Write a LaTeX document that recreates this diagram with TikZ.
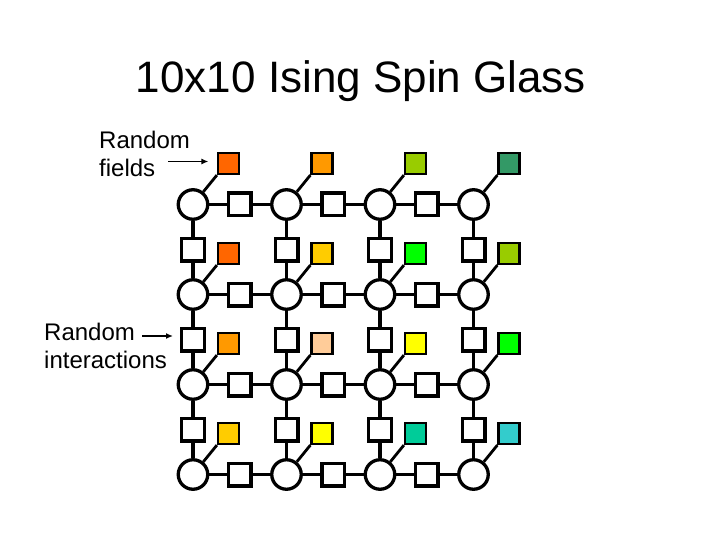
\documentclass[tikz,border=0pt]{standalone}
\usepackage{fontspec}
\setmainfont{Liberation Sans}
\usetikzlibrary{arrows.meta,positioning,calc}
\definecolor{ISGOrange}{HTML}{FF6600}
\definecolor{ISGAmber}{HTML}{FF9900}
\definecolor{ISGLime}{HTML}{99CC00}
\definecolor{ISGSea}{HTML}{339966}
\definecolor{ISGGold}{HTML}{FFCC00}
\definecolor{ISGGreen}{HTML}{00FF00}
\definecolor{ISGTan}{HTML}{FFCC99}
\definecolor{ISGYellow}{HTML}{FFFF00}
\definecolor{ISGTeal}{HTML}{00CC99}
\definecolor{ISGCyan}{HTML}{33CCCC}

\begin{document}
\begin{tikzpicture}[
  x=1pt, y=-1pt,
  spin/.style={draw, circle, line width=3.3pt, minimum size=29.5pt, inner sep=0pt},
  coupling/.style={draw, rectangle, line width=3.3pt, minimum size=22.7pt, inner sep=0pt},
  fieldbox/.style={draw, rectangle, line width=2.2pt, minimum size=21pt, inner sep=0pt},
  bond/.style={line width=3.3pt},
  tie/.style={line width=2.8pt},
  sidetext/.style={align=left, inner sep=0pt, anchor=north west, font=\fontsize{24}{27.6}\selectfont},
  pointer/.style={-{Latex[length=7pt,width=6pt]}, line width=1.8pt}
]
\useasboundingbox (0,0) rectangle (720,540);
\node[anchor=base, font=\fontsize{44}{50}\selectfont] (title) at (361,93) {10x10 Ising Spin Glass};
% spins
\foreach \i in {1,...,4} {
  \foreach \j in {1,...,4} {
    \node[spin] (s\i\j) at ({193+93.5*(\j-1)}, {204.5+90*(\i-1)}) {};
  }
}
% interactions along rows and columns
\foreach \i in {1,...,4} {
  \foreach \j in {1,2,3} {
    \pgfmathtruncatemacro{\jn}{\j+1}
    \node[coupling] (h\i\j) at ($(s\i\j)!0.5!(s\i\jn)$) {};
    \draw[bond] (s\i\j) -- (h\i\j) -- (s\i\jn);
    \node[coupling] (v\j\i) at ($(s\j\i)!0.5!(s\jn\i)$) {};
    \draw[bond] (s\j\i) -- (v\j\i) -- (s\jn\i);
  }
}
% fields
\foreach \i/\j/\shade in {1/1/ISGOrange, 1/2/ISGAmber, 1/3/ISGLime, 1/4/ISGSea,
                          2/1/ISGOrange, 2/2/ISGGold, 2/3/ISGGreen, 2/4/ISGLime,
                          3/1/ISGAmber, 3/2/ISGTan, 3/3/ISGYellow, 3/4/ISGGreen,
                          4/1/ISGGold, 4/2/ISGYellow, 4/3/ISGTeal, 4/4/ISGCyan} {
  \node[fieldbox, fill=\shade] (f\i\j) at ($(s\i\j)+(35.5,-41)$) {};
  \draw[tie] (s\i\j) -- (f\i\j.south west);
}
\node[sidetext] (fieldtext) at (99,131) {Random\\fields};
\coordinate (fieldtail) at (168,161.5);
\draw[pointer, shorten >=8.5pt] (fieldtail) -- (fieldtail -| f11.west);
\node[sidetext] (couplingtext) at (44,323) {Random\\interactions};
\coordinate (couplingtail) at (142,336);
\draw[pointer, shorten >=7pt] (couplingtail) -- (couplingtail -| v21.west);
\end{tikzpicture}
\end{document}
